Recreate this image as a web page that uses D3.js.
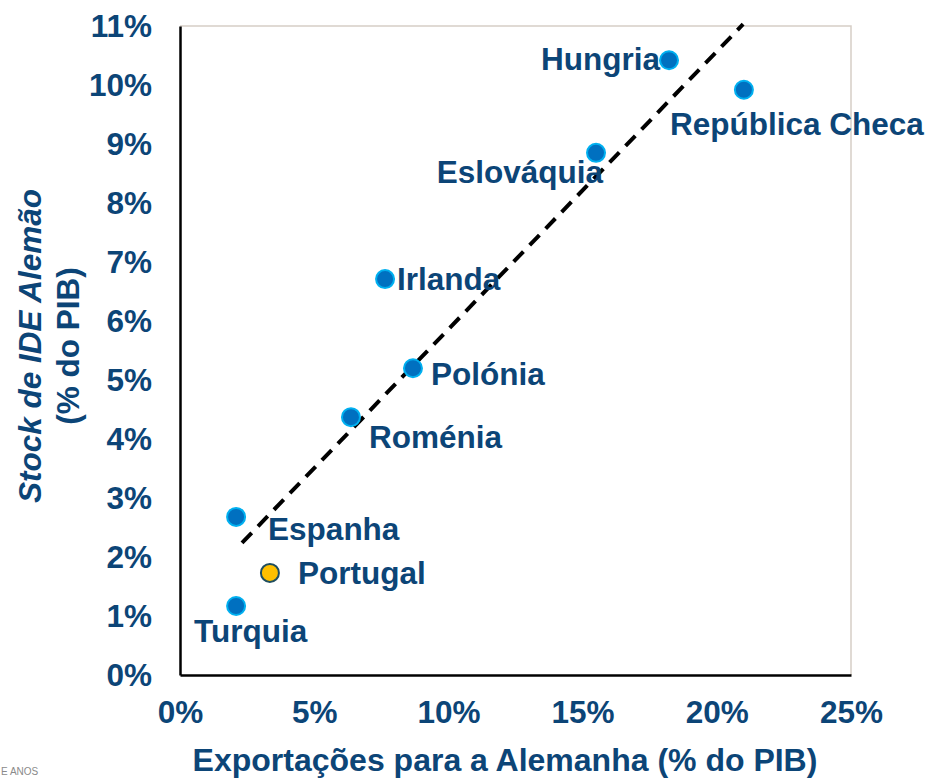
<!DOCTYPE html>
<html lang="pt">
<head>
<meta charset="UTF-8">
<title>Stock de IDE Alemão vs Exportações</title>
<script src="https://d3js.org/d3.v7.min.js"></script>
<style>
    body { margin: 0; background: #fff; }
    text { font-family: "Liberation Sans", Arial, sans-serif; font-weight: bold; fill: #0c4577; }
    .axis text { font-size: 31.5px; }
    .axis .tick line { display: none; }
</style>
</head>
<body>
<script>
    // dados
    var paises = ['Hungria', 'República Checa', 'Eslováquia', 'Irlanda', 'Polónia', 'Roménia', 'Espanha', 'Portugal', 'Turquia'];
    var exportacoes = [18.22, 21.01, 15.50, 7.64, 8.68, 6.37, 2.09, 3.35, 2.09];
    var stockIDE = [10.42, 9.92, 8.85, 6.71, 5.20, 4.37, 2.68, 1.73, 1.17];
    var xTicks = [0, 5, 10, 15, 20, 25];
    var yTicks = [0, 1, 2, 3, 4, 5, 6, 7, 8, 9, 10, 11];
    var tendenciaX = [2.31, 20.98];
    var tendenciaY = [2.24, 11.03];

    // posição das etiquetas relativamente ao ponto
    var etiqueta = {
        'Hungria':         {dx: -9,  dy: 10, anchor: 'end'},
        'República Checa': {dx: -74, dy: 45, anchor: 'start'},
        'Eslováquia':      {dx: 7,   dy: 30, anchor: 'end'},
        'Irlanda':         {dx: 12,  dy: 11, anchor: 'start'},
        'Polónia':         {dx: 18,  dy: 17, anchor: 'start'},
        'Roménia':         {dx: 18,  dy: 31, anchor: 'start'},
        'Espanha':         {dx: 32,  dy: 23, anchor: 'start'},
        'Portugal':        {dx: 28,  dy: 11, anchor: 'start'},
        'Turquia':         {dx: -42, dy: 36, anchor: 'start'}
    };

    var width = 931, height = 778;
    var pLeft = 180, pRight = 851, pTop = 26, pBottom = 675;

    var svg = d3.select('body').append('svg')
        .attr('width', width)
        .attr('height', height);

    var x = d3.scaleLinear().domain([0, 25]).range([pLeft, pRight]);
    var y = d3.scaleLinear().domain([0, 11]).range([pBottom, pTop]);

    // moldura: topo e direita em cinzento claro
    svg.append('path')
        .attr('d', 'M' + pLeft + ',' + pTop + 'H' + pRight + 'V' + pBottom)
        .attr('fill', 'none')
        .attr('stroke', '#d6cec6')
        .attr('stroke-width', 1.5);

    var xaxis = d3.axisBottom(x)
        .tickValues(xTicks)
        .tickSize(0)
        .tickPadding(26)
        .tickFormat(function (d) { return d + '%'; });

    var yaxis = d3.axisLeft(y)
        .tickValues(yTicks)
        .tickSize(0)
        .tickPadding(28)
        .tickFormat(function (d) { return d + '%'; });

    svg.append('g')
        .attr('class', 'axis')
        .attr('transform', 'translate(0,' + pBottom + ')')
        .call(xaxis);

    svg.append('g')
        .attr('class', 'axis')
        .attr('transform', 'translate(' + pLeft + ',0)')
        .call(yaxis);

    svg.selectAll('.axis .domain')
        .attr('stroke', '#000')
        .attr('stroke-width', 2.5);
    svg.selectAll('.axis text').attr('fill', '#0c4577');
    svg.selectAll('.axis').attr('font-family', null).attr('font-size', null);

    // linha de tendência
    svg.append('line')
        .attr('x1', x(tendenciaX[0]))
        .attr('y1', y(tendenciaY[0]))
        .attr('x2', x(tendenciaX[1]))
        .attr('y2', y(tendenciaY[1]))
        .attr('stroke', '#000')
        .attr('stroke-width', 4)
        .attr('stroke-dasharray', '14 9');

    var dados = paises.map(function (p, i) {
        return {pais: p, x: exportacoes[i], y: stockIDE[i]};
    });

    // etiquetas
    svg.selectAll('.lbl')
        .data(dados)
        .enter()
        .append('text')
        .attr('class', 'lbl')
        .attr('x', function (d) { return x(d.x) + etiqueta[d.pais].dx; })
        .attr('y', function (d) { return y(d.y) + etiqueta[d.pais].dy; })
        .attr('text-anchor', function (d) { return etiqueta[d.pais].anchor; })
        .style('font-size', '31.5px')
        .text(function (d) { return d.pais; });

    // pontos
    svg.selectAll('circle')
        .data(dados)
        .enter()
        .append('circle')
        .attr('cx', function (d) { return x(d.x); })
        .attr('cy', function (d) { return y(d.y); })
        .attr('r', 9)
        .attr('fill', function (d) { return d.pais == 'Portugal' ? '#ffc000' : '#0070c0'; })
        .attr('stroke', function (d) { return d.pais == 'Portugal' ? '#1f4e5f' : '#00b0f0'; })
        .attr('stroke-width', 2);

    // títulos dos eixos
    svg.append('text')
        .attr('x', 505)
        .attr('y', 771)
        .attr('text-anchor', 'middle')
        .style('font-size', '32px')
        .text('Exportações para a Alemanha (% do PIB)');

    var ty = svg.append('text')
        .attr('transform', 'translate(30,346) rotate(-90)')
        .attr('text-anchor', 'middle')
        .style('font-size', '31.5px');
    ty.append('tspan')
        .attr('x', 0)
        .attr('y', 11)
        .style('font-style', 'italic')
        .text('Stock de IDE Alemão');
    ty.append('tspan')
        .attr('x', 0)
        .attr('y', 49)
        .text('(% do PIB)');

    // resto do logótipo cortado
    svg.append('text')
        .attr('x', 1)
        .attr('y', 775)
        .style('font-size', '10px')
        .style('font-weight', 'normal')
        .style('fill', '#8a8a8a')
        .text('E ANOS');
</script>
</body>
</html>
